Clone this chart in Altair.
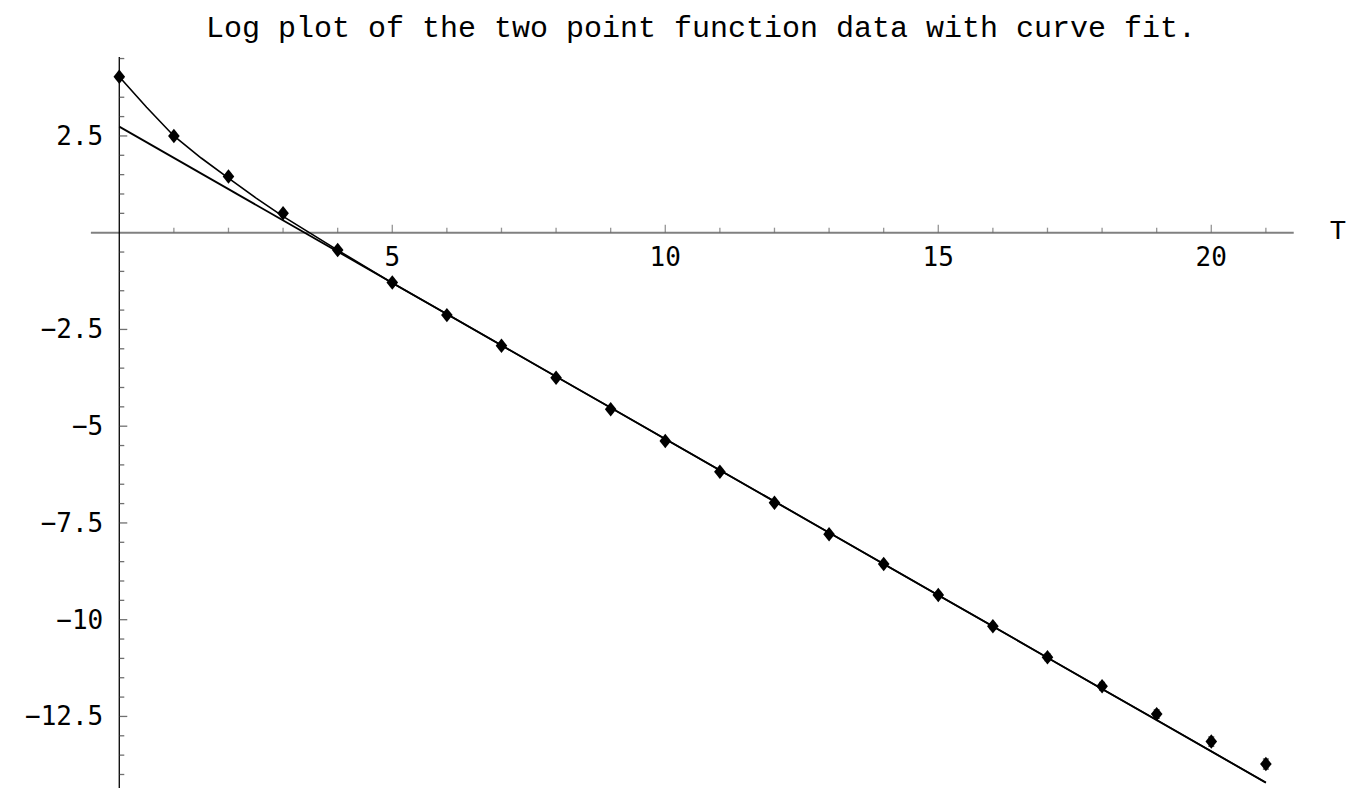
import altair as alt
import pandas as pd

# ---- data ----
T = list(range(22))
log_g = [4.03, 2.50, 1.45, 0.50, -0.45, -1.29, -2.13, -2.92, -3.75, -4.56, -5.38,
         -6.18, -6.98, -7.79, -8.56, -9.36, -10.17, -10.97, -11.72, -12.44, -13.15, -13.73]
err = [0.01, 0.01, 0.01, 0.01, 0.01, 0.02, 0.02, 0.02, 0.02, 0.03, 0.03,
       0.03, 0.04, 0.05, 0.06, 0.07, 0.08, 0.09, 0.10, 0.11, 0.12, 0.13]
fit_T = [0, 0.5, 1, 1.5, 2, 2.5, 3, 4, 5, 6, 7, 8, 9, 10, 11, 12, 13, 14, 15, 16,
         17, 18, 19, 20, 21]
fit_curve = [4.03, 3.24, 2.50, 1.93, 1.41, 0.90, 0.42, -0.45, -1.30, -2.10, -2.91,
             -3.72, -4.52, -5.33, -6.14, -6.94, -7.75, -8.56, -9.37, -10.17, -10.98,
             -11.79, -12.59, -13.40, -14.21]
line_T = [0, 21]
line_y = [2.74, -14.21]

x_major = [5, 10, 15, 20]
x_labels = ["5", "10", "15", "20"]
x_minor = [1, 2, 3, 4, 6, 7, 8, 9, 11, 12, 13, 14, 16, 17, 18, 19, 21]
y_major = [2.5, -2.5, -5, -7.5, -10, -12.5]
y_labels = ["2.5", "\u22122.5", "\u22125", "\u22127.5", "\u221210", "\u221212.5"]
y_minor = [4.5, 4.0, 3.5, 3.0, 2.0, 1.5, 1.0, 0.5, -0.5, -1.0, -1.5, -2.0, -3.0, -3.5,
           -4.0, -4.5, -5.5, -6.0, -6.5, -7.0, -8.0, -8.5, -9.0, -9.5, -10.5, -11.0,
           -11.5, -12.0, -13.0, -13.5, -14.0, -14.5]
x_axis_range = [-0.52, 21.51]
y_axis_range = [4.54, -14.6]
title_text = "Log plot of the two point function data with curve fit."
x_title = "T"

W, H = 1343, 780
xs = alt.Scale(domain=[-2.038, 22.559], nice=False, zero=False)
ys = alt.Scale(domain=[-14.349, 5.806], nice=False, zero=False)

pts = pd.DataFrame({"T": T, "y": log_g, "e": err})
pts["lo"] = pts["y"] - pts["e"]
pts["hi"] = pts["y"] + pts["e"]
curve = pd.DataFrame({"T": fit_T, "y": fit_curve})
line = pd.DataFrame({"T": line_T, "y": line_y})
xmaj = pd.DataFrame({"T": x_major, "lab": x_labels, "y": [0] * len(x_major)})
xmin = pd.DataFrame({"T": x_minor, "y": [0] * len(x_minor)})
ymaj = pd.DataFrame({"y": y_major, "lab": y_labels, "T": [0] * len(y_major)})
ymin = pd.DataFrame({"y": y_minor, "T": [0] * len(y_minor)})
xax = pd.DataFrame({"T": [x_axis_range[0]], "T2": [x_axis_range[1]], "y": [0]})
yax = pd.DataFrame({"y": [y_axis_range[0]], "y2": [y_axis_range[1]], "T": [0]})

X = lambda f="T": alt.X(f"{f}:Q", scale=xs, axis=None)
Y = lambda f="y": alt.Y(f"{f}:Q", scale=ys, axis=None)

x_axis = alt.Chart(xax).mark_rule(color="#808080", strokeWidth=2).encode(
    x=X(), x2="T2:Q", y=Y())
y_axis = alt.Chart(yax).mark_rule(color="#000000", strokeWidth=1.3).encode(
    x=X(), y=Y(), y2="y2:Q")

x_major_ticks = alt.Chart(xmaj).mark_tick(orient="vertical", size=8, thickness=1.3,
                                          yOffset=-4, color="#666666").encode(x=X(), y=Y())
x_minor_ticks = alt.Chart(xmin).mark_tick(orient="vertical", size=5, thickness=1.3,
                                          yOffset=-2.5, color="#666666").encode(x=X(), y=Y())
y_major_ticks = alt.Chart(ymaj).mark_tick(orient="horizontal", size=8, thickness=1.3,
                                          xOffset=4, color="#333333").encode(x=X(), y=Y())
y_minor_ticks = alt.Chart(ymin).mark_tick(orient="horizontal", size=5, thickness=1.3,
                                          xOffset=2.5, color="#333333").encode(x=X(), y=Y())

x_tick_labels = alt.Chart(xmaj).mark_text(font="DejaVu Sans Mono", fontSize=26, dy=25,
                                          align="center", baseline="middle",
                                          color="black").encode(x=X(), y=Y(), text="lab:N")
y_tick_labels = alt.Chart(ymaj).mark_text(font="DejaVu Sans Mono", fontSize=26, dx=-16, dy=1,
                                          align="right", baseline="middle",
                                          color="black").encode(x=X(), y=Y(), text="lab:N")

fit_line = alt.Chart(line).mark_line(color="black", strokeWidth=1.8).encode(x=X(), y=Y())
fit_curve_l = alt.Chart(curve).mark_line(color="black", strokeWidth=1.6).encode(x=X(), y=Y())

err_rules = alt.Chart(pts).mark_rule(color="black", strokeWidth=1.5).encode(
    x=X(), y=Y("lo"), y2="hi:Q")
err_lo = alt.Chart(pts).mark_tick(orient="horizontal", size=6, thickness=1.3,
                                  color="black").encode(x=X(), y=Y("lo"))
err_hi = alt.Chart(pts).mark_tick(orient="horizontal", size=6, thickness=1.3,
                                  color="black").encode(x=X(), y=Y("hi"))

diamond = "M0,-1L0.8,0L0,1L-0.8,0Z"
points = alt.Chart(pts).mark_point(shape=diamond, filled=True, size=210, color="black",
                                   opacity=1).encode(x=X(), y=Y())

title = alt.Chart(pd.DataFrame({"t": [title_text]})).mark_text(
    font="Courier New, Courier, Liberation Mono", fontSize=30, align="center",
    baseline="alphabetic", color="black").encode(x=alt.value(693), y=alt.value(29), text="t:N")
t_label = alt.Chart(pd.DataFrame({"t": [x_title]})).mark_text(
    font="Courier New, Courier, Liberation Mono", fontSize=28, align="center",
    baseline="alphabetic", color="black").encode(x=alt.value(1330), y=alt.value(231), text="t:N")

chart = alt.layer(
    x_axis, y_axis, x_major_ticks, x_minor_ticks, y_major_ticks, y_minor_ticks,
    x_tick_labels, y_tick_labels, fit_line, fit_curve_l,
    err_rules, err_lo, err_hi, points, title, t_label
).properties(
    width=W, height=H, padding=0, autosize=alt.AutoSizeParams(type="none"),
    background="white"
).configure_view(stroke=None)

chart.save("out.html", embed_options={"renderer": "svg", "actions": False})
